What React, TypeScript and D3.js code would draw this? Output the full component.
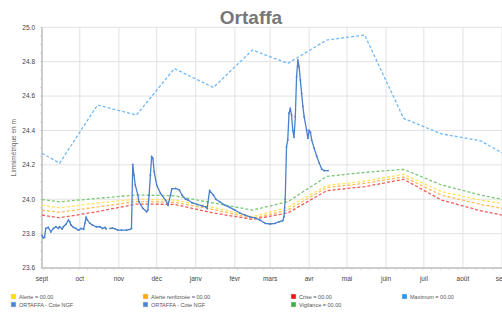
import React from 'react'
import * as d3 from 'd3'

// Month labels along the x axis (hydrological year sept → sept)
const monthLabels = ['sept', 'oct', 'nov', 'déc', 'janv', 'févr', 'mars', 'avr', 'mai', 'juin', 'juil', 'août', 'sept']

// Threshold / maximum curves are defined on the 15th of each month
const refDates = [
  '2018-09-01', '2018-09-15', '2018-10-15', '2018-11-15', '2018-12-15', '2019-01-15', '2019-02-15',
  '2019-03-15', '2019-04-15', '2019-05-15', '2019-06-15', '2019-07-15', '2019-08-15', '2019-09-01',
]
const vigilance = [23.998, 23.985, 24.005, 24.025, 24.02, 23.978, 23.937, 23.985, 24.133, 24.156, 24.174, 24.083, 24.024, 24.0]
const alerte = [23.966, 23.95, 23.978, 24.0, 23.995, 23.953, 23.898, 23.953, 24.08, 24.106, 24.145, 24.044, 23.995, 23.976]
const alerteRenforcee = [23.937, 23.924, 23.955, 23.987, 23.982, 23.94, 23.889, 23.937, 24.068, 24.093, 24.13, 24.024, 23.97, 23.947]
const crise = [23.908, 23.892, 23.928, 23.972, 23.97, 23.92, 23.883, 23.92, 24.05, 24.073, 24.116, 23.995, 23.933, 23.908]
const maximum = [24.267, 24.21, 24.548, 24.49, 24.76, 24.65, 24.868, 24.79, 24.926, 24.955, 24.47, 24.38, 24.34, 24.27]

// ORTAFFA - Cote NGF measurements (null = missing data)
const coteDates = [
  '2018-09-01', '2018-09-02', '2018-09-03', '2018-09-04', '2018-09-06', '2018-09-08', '2018-09-10', '2018-09-12',
  '2018-09-14', '2018-09-15', '2018-09-17', '2018-09-18', '2018-09-20', '2018-09-22', '2018-09-23', '2018-09-24',
  '2018-09-26', '2018-09-28', '2018-09-30', '2018-10-02', '2018-10-04', '2018-10-05', '2018-10-06', '2018-10-07',
  '2018-10-09', '2018-10-11', '2018-10-14', '2018-10-17', '2018-10-19', '2018-10-21', '2018-10-22', '2018-10-23',
  '2018-10-25', '2018-10-27', '2018-10-29', '2018-10-31', '2018-11-03', '2018-11-07', '2018-11-10', '2018-11-11',
  '2018-11-12', '2018-11-13', '2018-11-14', '2018-11-16', '2018-11-17', '2018-11-20', '2018-11-23', '2018-11-24',
  '2018-11-25', '2018-11-26', '2018-11-27', '2018-11-28', '2018-11-29', '2018-12-01', '2018-12-04', '2018-12-08',
  '2018-12-10', '2018-12-12', '2018-12-13', '2018-12-16', '2018-12-19', '2018-12-21', '2018-12-24', '2018-12-26',
  '2018-12-29', '2019-01-02', '2019-01-06', '2019-01-09', '2019-01-10', '2019-01-12', '2019-01-15', '2019-01-17',
  '2019-01-20', '2019-01-24', '2019-01-28', '2019-02-01', '2019-02-05', '2019-02-09', '2019-02-13', '2019-02-17',
  '2019-02-21', '2019-02-25', '2019-03-01', '2019-03-05', '2019-03-08', '2019-03-11', '2019-03-12', '2019-03-13',
  '2019-03-14', '2019-03-15', '2019-03-16', '2019-03-17', '2019-03-18', '2019-03-19', '2019-03-20', '2019-03-21',
  '2019-03-22', '2019-03-23', '2019-03-24', '2019-03-25', '2019-03-26', '2019-03-27', '2019-03-28', '2019-03-30',
  '2019-03-31', '2019-04-01', '2019-04-02', '2019-04-03', '2019-04-05', '2019-04-07', '2019-04-09', '2019-04-11',
  '2019-04-13', '2019-04-16',
]
const coteValues: (number | null)[] = [
  23.79, 23.776, 23.778, 23.83, 23.836, 23.81, 23.83, 23.84,
  23.83, 23.84, 23.827, 23.84, 23.854, 23.879, 23.869, 23.85,
  23.836, 23.83, 23.82, 23.83, 23.825, 23.86, 23.895, 23.879,
  23.86, 23.85, 23.84, 23.84, 23.83, 23.836, 23.827, null,
  23.83, 23.832, 23.828, 23.82, 23.82, 23.82, 23.825, 23.83,
  24.203, 24.14, 24.083, 24.025, 23.985, 23.947, 23.927, 23.937,
  24.024, 24.14, 24.247, 24.238, 24.16, 24.083, 24.034, 23.995,
  23.966, 24.025, 24.06, 24.063, 24.054, 24.025, 24.0, 23.995,
  23.98, 23.97, 23.962, 23.956, 23.947, 24.05, 24.024, 24.0,
  23.985, 23.966, 23.953, 23.937, 23.92, 23.908, 23.898, 23.892,
  23.879, 23.86, 23.856, 23.86, 23.869, 23.875, 23.898, 24.0,
  24.305, 24.344, 24.5, 24.53, 24.49, 24.4, 24.36, 24.48,
  24.713, 24.81, 24.77, 24.693, 24.616, 24.54, 24.48, 24.4,
  24.354, 24.4, 24.39, 24.344, 24.296, 24.25, 24.21, 24.174,
  24.166, 24.166,
]

const yTicks = [23.6, 23.8, 24.0, 24.2, 24.4, 24.6, 24.8, 25.0]

const legendItems = [
  { label: 'Alerte = 00.00', color: '#ffe000', col: 0, row: 0 },
  { label: 'ORTAFFA - Cote NGF', color: '#4a86cf', col: 0, row: 1 },
  { label: 'Alerte renforcée = 00.00', color: '#ffa800', col: 1, row: 0 },
  { label: 'ORTAFFA - Cote NGF', color: '#4a86cf', col: 1, row: 1 },
  { label: 'Crise = 00.00', color: '#ee1111', col: 2, row: 0 },
  { label: 'Vigilance = 00.00', color: '#44aa44', col: 2, row: 1 },
  { label: 'Maximum = 00.00', color: '#2196f3', col: 3, row: 0 },
]

const W = 502
const H = 315
const parse = d3.timeParse('%Y-%m-%d')

export default function App() {
  const margin = { left: 42, right: 0, top: 27.3, bottom: 47 }
  const x = d3.scaleTime()
    .domain([parse('2018-09-01')!, parse('2019-09-01')!])
    .range([margin.left, W - margin.right])
  const y = d3.scaleLinear().domain([23.6, 25.0]).range([H - margin.bottom, margin.top])

  const refLine = d3.line<number>()
    .x((_, i) => x(parse(refDates[i])!))
    .y((d) => y(d))

  const coteLine = d3.line<number | null>()
    .defined((d) => d !== null)
    .x((_, i) => x(parse(coteDates[i])!))
    .y((d) => y(d as number))

  const months = d3.timeMonth.range(parse('2018-09-01')!, parse('2019-09-02')!)
  const weeks = d3.timeWeek.range(parse('2018-09-01')!, parse('2019-09-01')!)
  const minorY = d3.range(23.6, 25.001, 0.05)

  const dashed = [
    { data: vigilance, color: '#7cc878' },
    { data: alerte, color: '#ffe45a' },
    { data: alerteRenforcee, color: '#ffbe55' },
    { data: crise, color: '#f25a5a' },
    { data: maximum, color: '#72b9f5' },
  ]

  const font = 'Liberation Sans, Arial, sans-serif'
  const colX = [11, 143, 291, 402]

  return (
    <svg width={W} height={H} style={{ position: 'absolute', left: 0, top: 0, background: '#fff' }} fontFamily={font}>
      <text x={251} y={24} textAnchor="middle" fontSize={19} fontWeight="bold" fill="#777">Ortaffa</text>

      {/* grid */}
      {yTicks.map((t) => (
        <line key={'gy' + t} x1={margin.left} x2={W} y1={y(t)} y2={y(t)} stroke="#e2e2e2" strokeWidth={1} />
      ))}
      {months.map((m, i) => (
        <line key={'gx' + i} x1={x(m)} x2={x(m)} y1={margin.top} y2={y(23.6)} stroke="#e2e2e2" strokeWidth={1} />
      ))}

      {/* axes */}
      <line x1={margin.left} x2={margin.left} y1={margin.top} y2={y(23.6)} stroke="#a8a8a8" />
      <line x1={margin.left} x2={W} y1={y(23.6)} y2={y(23.6)} stroke="#a8a8a8" />
      {minorY.map((t, i) => (
        <line key={'my' + i} x1={margin.left - 2} x2={margin.left} y1={y(t)} y2={y(t)} stroke="#c8c8c8" strokeWidth={0.7} />
      ))}
      {weeks.map((w, i) => (
        <line key={'mx' + i} x1={x(w)} x2={x(w)} y1={y(23.6)} y2={y(23.6) + 2} stroke="#c8c8c8" strokeWidth={0.7} />
      ))}
      {yTicks.map((t) => (
        <text key={'ty' + t} x={35} y={y(t) + 2.3} textAnchor="end" fontSize={6.5} fill="#444">{t.toFixed(1)}</text>
      ))}
      {months.map((m, i) => (
        <text key={'tx' + i} x={x(m)} y={281} textAnchor="middle" fontSize={6.5} fill="#444">{monthLabels[i]}</text>
      ))}
      <text transform={`translate(16,${(margin.top + y(23.6)) / 2}) rotate(-90)`} textAnchor="middle" fontSize={6.5} fill="#666">
        Limnimétrique en m
      </text>

      {/* threshold curves */}
      {dashed.map((s, i) => (
        <path key={'d' + i} d={refLine(s.data) || ''} fill="none" stroke={s.color} strokeWidth={1.3} strokeDasharray="3,2" />
      ))}

      {/* measured level */}
      <path d={coteLine(coteValues) || ''} fill="none" stroke="#4a80cc" strokeWidth={1.3} />
      {coteValues.map((v, i) =>
        v === null ? null : (
          <circle key={'c' + i} cx={x(parse(coteDates[i])!)} cy={y(v)} r={0.9} fill="#4a80cc" />
        ),
      )}

      {/* legend */}
      {legendItems.map((it, i) => (
        <g key={'l' + i} transform={`translate(${colX[it.col]},${294 + it.row * 8})`}>
          <rect x={0} y={0} width={5} height={5} fill={it.color} stroke="#ddd" strokeWidth={0.5} />
          <text x={8} y={4.5} fontSize={5.5} fill="#555">{it.label}</text>
        </g>
      ))}
    </svg>
  )
}
